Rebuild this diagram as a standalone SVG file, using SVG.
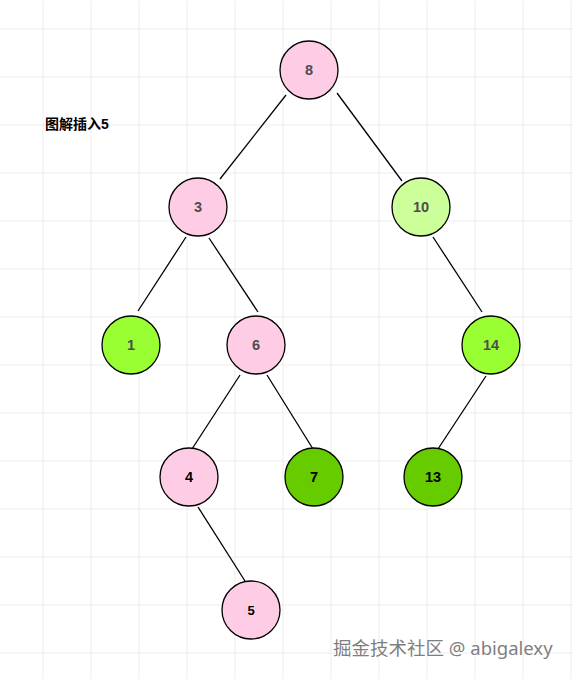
<svg xmlns="http://www.w3.org/2000/svg" width="573" height="679" viewBox="0 0 573 679">
<defs>
<pattern id="grid" x="42" y="28" width="48" height="48" patternUnits="userSpaceOnUse">
<path d="M0 0H48M0 0V48" fill="none" stroke="#dadada" stroke-width="1"/>
</pattern>
</defs>
<style>
.node circle{stroke:#000;stroke-width:1.3}
.node text{font-family:"Liberation Sans",Arial,sans-serif;font-weight:bold;font-size:14.5px;text-anchor:middle;dominant-baseline:central}
.pink{fill:#FFCCE6}
.lg{fill:#CCFF99}
.g{fill:#99FF33}
.dg{fill:#66CC00}
.t1{fill:#4D4D4D}
.t2{fill:#000}
#edges line{stroke:#000;stroke-width:1.3}
</style>
<rect width="573" height="679" fill="#fff"/>
<rect x="0" y="0" width="573" height="679" fill="url(#grid)" transform="translate(0.5 0.5)"/>
<text x="45" y="129" font-family="'Liberation Sans','Noto Sans CJK SC',sans-serif" font-weight="bold" font-size="14" fill="#000">图解插入5</text>
<g id="edges">
<line x1="286" y1="95" x2="220" y2="179"/>
<line x1="337" y1="93" x2="402" y2="181"/>
<line x1="186" y1="237" x2="138" y2="311"/>
<line x1="209" y1="238" x2="258" y2="312"/>
<line x1="433" y1="237" x2="482" y2="312"/>
<line x1="240" y1="375" x2="192" y2="449"/>
<line x1="267" y1="375" x2="313" y2="449"/>
<line x1="486" y1="376" x2="438" y2="449"/>
<line x1="198" y1="507" x2="245" y2="581"/>
</g>
<g id="n8" class="node"><circle cx="309" cy="70" r="29" class="pink"/><text x="309" y="70" class="t1">8</text></g>
<g id="n3" class="node"><circle cx="198" cy="207" r="29" class="pink"/><text x="198" y="207" class="t1">3</text></g>
<g id="n10" class="node"><circle cx="421" cy="207" r="29" class="lg"/><text x="421" y="207" class="t1">10</text></g>
<g id="n1" class="node"><circle cx="131" cy="345" r="29" class="g"/><text x="131" y="345" class="t1">1</text></g>
<g id="n6" class="node"><circle cx="256" cy="345" r="29" class="pink"/><text x="256" y="345" class="t1">6</text></g>
<g id="n14" class="node"><circle cx="491" cy="345" r="29" class="g"/><text x="491" y="345" class="t1">14</text></g>
<g id="n4" class="node"><circle cx="189" cy="477" r="29" class="pink"/><text x="189" y="477" class="t2">4</text></g>
<g id="n7" class="node"><circle cx="314" cy="477" r="29" class="dg"/><text x="314" y="477" class="t2">7</text></g>
<g id="n13" class="node"><circle cx="433" cy="477" r="29" class="dg"/><text x="433" y="477" class="t2">13</text></g>
<g id="n5" class="node"><circle cx="251" cy="610" r="29" class="pink"/><text x="251" y="610" class="t2" style="font-size:13px">5</text></g>
<text x="333" y="655" font-family="'Noto Sans','Noto Sans CJK SC',sans-serif" font-size="18.5" fill="#7f7f7f" stroke="#fff" stroke-width="2" paint-order="stroke" stroke-linejoin="round">掘金技术社区 @ abigalexy</text>
</svg>
